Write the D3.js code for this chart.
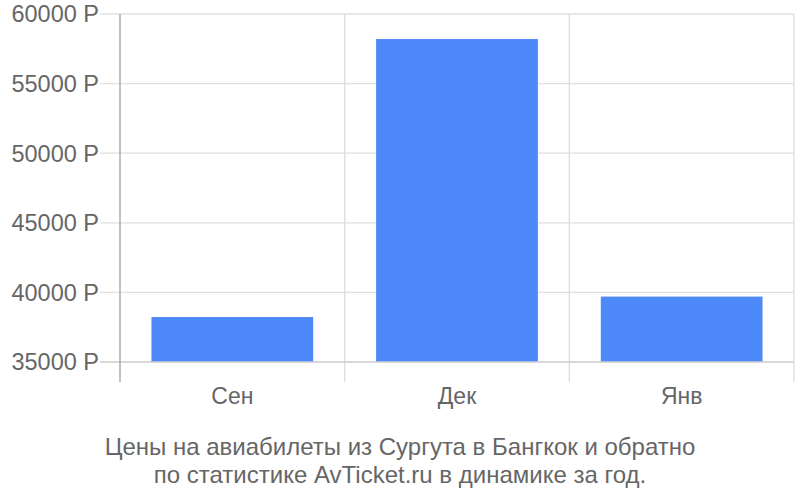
<!DOCTYPE html>
<html><head><meta charset="utf-8">
<script src="https://cdn.jsdelivr.net/npm/d3@7"></script>
<style>body{margin:0;background:#fff}svg{display:block}text{font-family:"Liberation Sans",Arial,sans-serif}</style>
</head><body>
<svg id="c" width="800" height="500"></svg>
<script>
const categories = ["Сен", "Дек", "Янв"];
const prices = [38230, 58200, 39700];
const yTicks = [35000, 40000, 45000, 50000, 55000, 60000];
const captionLines = ["Цены на авиабилеты из Сургута в Бангкок и обратно", "по статистике AvTicket.ru в динамике за год."];

const svg = d3.select("#c");
const mLeft = 120, mRight = 794, mTop = 14, mBottom = 362;
const x = d3.scaleBand().domain(categories).range([mLeft, mRight]).paddingInner(0.28).paddingOuter(0.14);
const xb = d3.scaleBand().domain(categories).range([mLeft, mRight]);
const y = d3.scaleLinear().domain([35000, 60000]).range([mBottom, mTop]);

// horizontal grid
svg.append("g").selectAll("line").data(yTicks.filter(d => d !== 35000)).join("line")
  .attr("x1", 100).attr("x2", mRight).attr("y1", d => y(d)).attr("y2", d => y(d))
  .attr("stroke", "#e0e0e0").attr("stroke-width", 1.3);

// vertical grid at band boundaries
const bounds = categories.slice(1).map(c => xb(c)).concat([mRight]);
svg.append("g").selectAll("line").data(bounds).join("line")
  .attr("x1", d => d).attr("x2", d => d).attr("y1", mTop).attr("y2", 382)
  .attr("stroke", "#dddddd").attr("stroke-width", 1.3);

// bars
svg.append("g").selectAll("rect").data(prices).join("rect")
  .attr("x", (d, i) => x(categories[i])).attr("width", x.bandwidth())
  .attr("y", d => y(d)).attr("height", d => y(35000) - y(d))
  .attr("fill", "#4d89f9");

// baseline
svg.append("line").attr("x1", 100).attr("x2", mRight).attr("y1", y(35000)).attr("y2", y(35000))
  .attr("stroke", "#cccccc").attr("stroke-width", 1.5);

// left axis line
svg.append("line").attr("x1", mLeft).attr("x2", mLeft).attr("y1", mTop).attr("y2", 382)
  .attr("stroke", "#9e9e9e").attr("stroke-width", 1.3);

// y labels
svg.append("g").selectAll("text").data(yTicks).join("text")
  .attr("x", 99).attr("y", d => y(d)).attr("dy", "0.36em")
  .attr("text-anchor", "end").attr("font-size", 23.5).attr("fill", "#666")
  .text(d => d + " Р");

// x labels
svg.append("g").selectAll("text").data(categories).join("text")
  .attr("x", d => xb(d) + xb.bandwidth() / 2).attr("y", 404)
  .attr("text-anchor", "middle").attr("font-size", 23).attr("fill", "#666")
  .text(d => d);

// caption
svg.append("g").selectAll("text").data(captionLines).join("text")
  .attr("x", 400).attr("y", (d, i) => 455 + i * 28)
  .attr("text-anchor", "middle").attr("font-size", 24).attr("fill", "#666")
  .text(d => d);
</script>
</body></html>
